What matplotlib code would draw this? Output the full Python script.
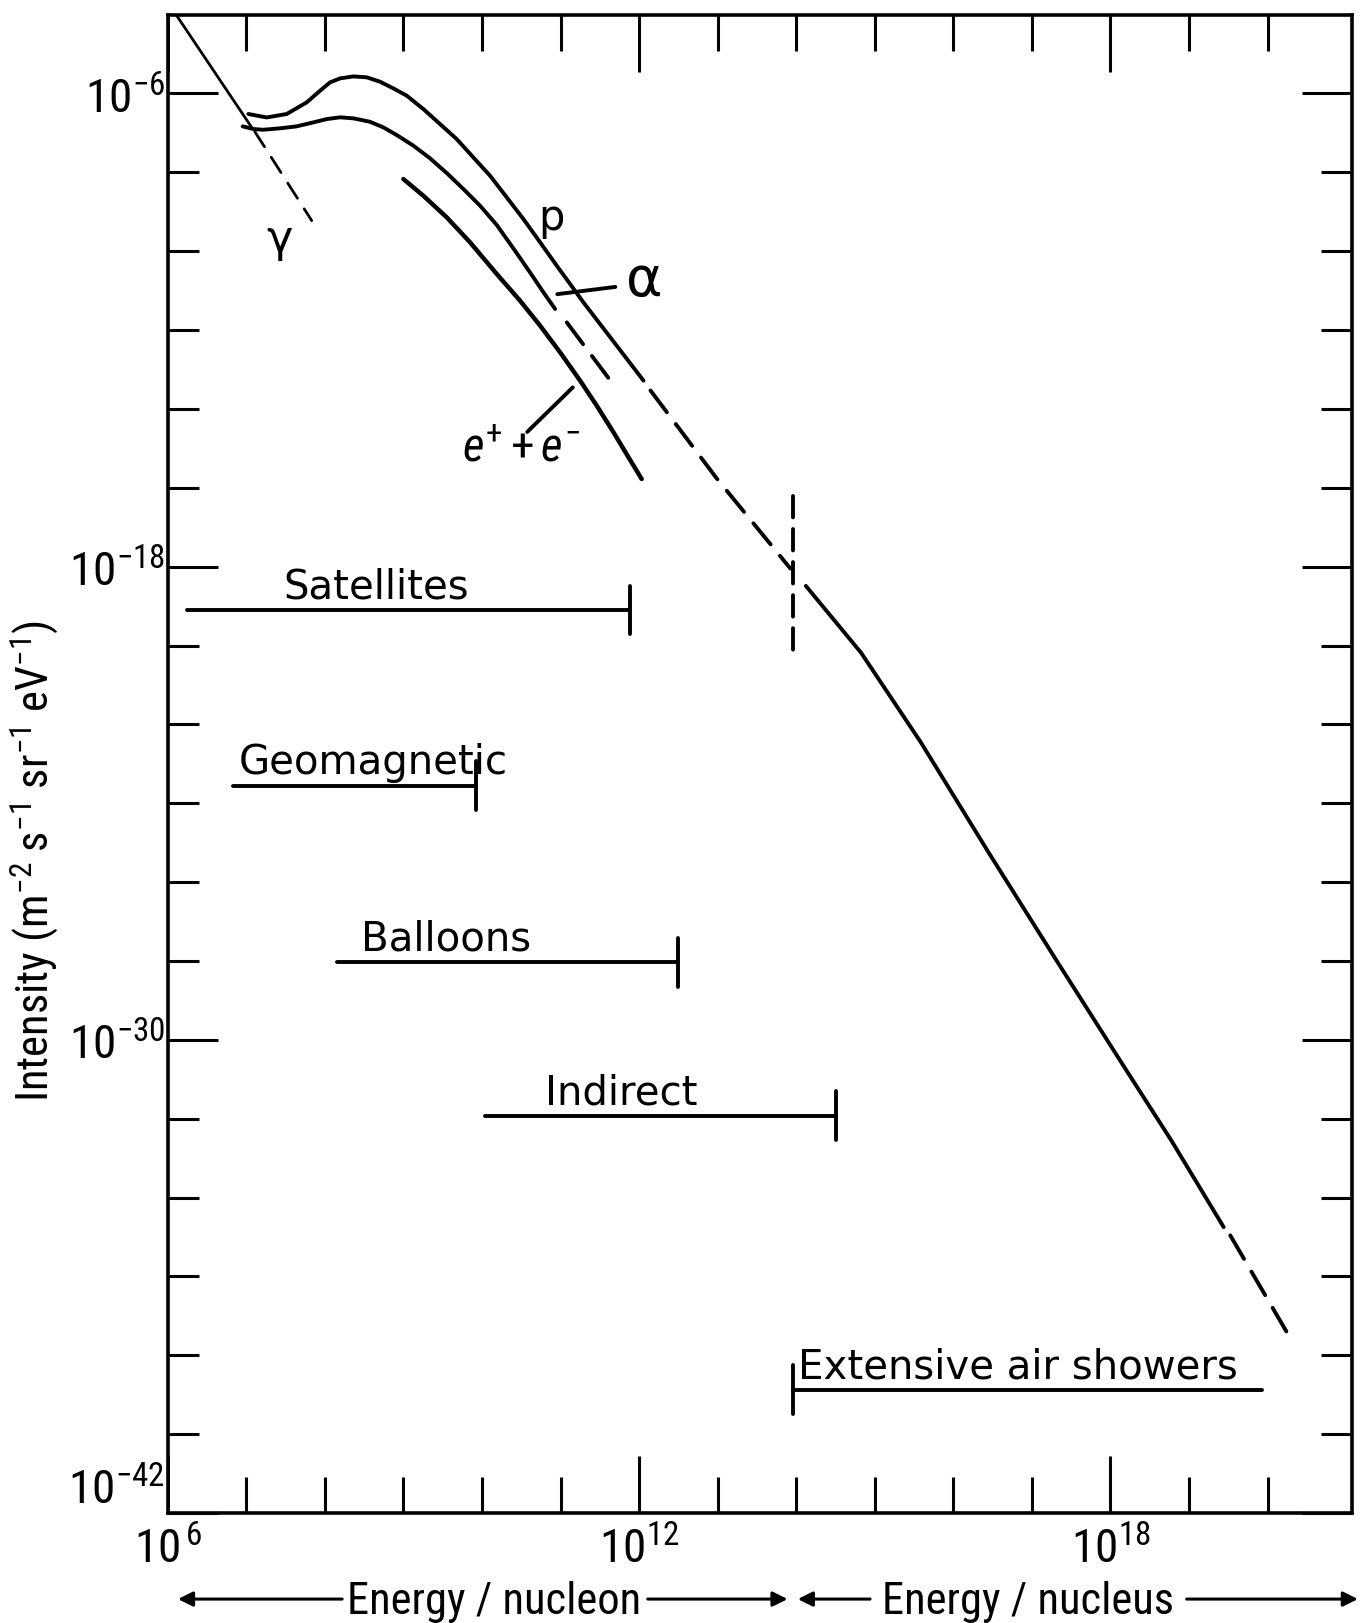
import numpy as np
import matplotlib
matplotlib.use('Agg')
import matplotlib.pyplot as plt
from matplotlib import font_manager
from matplotlib.transforms import blended_transform_factory
from matplotlib.ticker import NullFormatter

# all values are log10(E / eV) and log10(intensity)
gamma_solid_E = [6.105, 7.068]
gamma_solid_I = [-4.0, -6.860]
gamma_dash_E = [7.108, 7.833]
gamma_dash_I = [-6.967, -9.226]

p_E = [7.026, 7.259, 7.514, 7.768, 7.939, 8.065, 8.193, 8.362, 8.533, 8.702, 8.872, 9.042, 9.253,
       9.466, 9.678, 9.890, 10.103, 10.315, 10.527, 10.740, 10.952, 11.122, 11.291, 11.503, 11.715, 12.056]
p_I = [-6.521, -6.608, -6.521, -6.227, -5.930, -5.720, -5.618, -5.568, -5.591, -5.702, -5.872, -6.056, -6.395,
       -6.776, -7.157, -7.622, -8.087, -8.635, -9.184, -9.775, -10.369, -10.833, -11.298, -11.847, -12.396, -13.283]
p_dash_E = [12.145, 12.989, 13.926]
p_dash_I = [-13.533, -15.765, -18.049]

alpha_E = [6.953, 7.089, 7.216, 7.429, 7.641, 7.853, 8.023, 8.193, 8.362, 8.574, 8.744, 8.914, 9.127,
           9.339, 9.551, 9.764, 9.975, 10.188, 10.399, 10.612, 10.782, 10.931]
alpha_I = [-6.834, -6.902, -6.920, -6.884, -6.834, -6.734, -6.650, -6.605, -6.631, -6.718, -6.860, -7.054, -7.325,
           -7.645, -8.018, -8.425, -8.845, -9.336, -9.927, -10.540, -11.043, -11.466]
alpha_dash_E = [11.079, 11.715]
alpha_dash_I = [-11.805, -13.496]

e_E = [8.999, 9.253, 9.551, 9.848, 10.188, 10.485, 10.740, 10.994, 11.249, 11.461, 11.674, 11.865, 12.033]
e_I = [-8.170, -8.593, -9.142, -9.775, -10.578, -11.256, -11.889, -12.564, -13.283, -13.918, -14.593, -15.226, -15.778]

# energy per nucleus part above the knee marker
pk_E = [14.123, 14.826, 15.583, 16.448, 17.313, 18.179, 18.773, 19.441]
pk_I = [-18.488, -20.184, -22.445, -25.245, -27.986, -30.699, -32.545, -34.748]
pk_dash_E = [19.525, 20.269]
pk_dash_I = [-34.958, -37.495]

knee_E = 13.955
knee_I = [-16.21, -20.33]

# experimental ranges
bar_names = ['Satellites', 'Geomagnetic', 'Balloons', 'Indirect', 'Extensive air showers']
bar_lo = [6.24, 6.83, 8.15, 10.04, 13.96]
bar_hi = [11.88, 9.93, 12.50, 14.51, 19.93]
bar_I = [-19.10, -23.56, -28.03, -31.92, -38.87]
bar_cap = ['hi', 'hi', 'hi', 'hi', 'lo']
bar_text_E = [7.477, 6.91, 8.466, 10.80, 14.02]

# narrow font for axis texts if one is installed
fonts = {(f.name, f.stretch) for f in font_manager.fontManager.ttflist}
NARROW = dict(family='DejaVu Sans')
pattern = 'DejaVu Sans'
for cand in ['Liberation Sans Narrow', 'Roboto Condensed', 'Open Sans Condensed']:
    if any(n == cand for n, s in fonts):
        NARROW = dict(family=cand)
        pattern = cand
        break
else:
    if ('DejaVu Sans', 'condensed') in fonts:
        NARROW = dict(family='DejaVu Sans', stretch='condensed')
        pattern = 'DejaVu Sans:stretch=condensed'

plt.rcParams['mathtext.fontset'] = 'custom'
plt.rcParams['mathtext.rm'] = pattern
plt.rcParams['mathtext.it'] = pattern + ':italic'
plt.rcParams['mathtext.bf'] = pattern + ':bold'


def P(a):
    return 10.0 ** np.asarray(a, dtype=float)


LW = 2.8
DASH = (7.0, 3.8)

fig = plt.figure(figsize=(13.65, 16.24), dpi=100)
ax = fig.add_axes([0.1229, 0.0677, 0.8673, 0.9227])
ax.set_xscale('log')
ax.set_yscale('log')
ax.set_xlim(1e6, 10 ** 21.07)
ax.set_ylim(1e-42, 1e-4)

k = dict(color='black', solid_capstyle='round', dash_capstyle='round', solid_joinstyle='round')
ax.plot(P(gamma_solid_E), P(gamma_solid_I), lw=2.0, **k)
ax.plot(P(gamma_dash_E), P(gamma_dash_I), lw=2.0, dashes=(6.5, 4.5), **k)
ax.plot(P(p_E), P(p_I), lw=LW, **k)
ax.plot(P(p_dash_E), P(p_dash_I), lw=LW, dashes=DASH, **k)
ax.plot(P(alpha_E), P(alpha_I), lw=LW, **k)
ax.plot(P(alpha_dash_E), P(alpha_dash_I), lw=LW, dashes=DASH, **k)
ax.plot(P(e_E), P(e_I), lw=LW + 0.4, **k)
ax.plot(P(pk_E), P(pk_I), lw=LW, **k)
ax.plot(P(pk_dash_E), P(pk_dash_I), lw=LW, dashes=DASH, **k)
ax.plot(P([knee_E, knee_E]), P(knee_I), lw=LW, dashes=(5.5, 3.0), **k)

# labels on the curves, with leader lines
ax.text(P(10.88), P(-9.14), 'p', fontsize=30, ha='center', va='center')
ax.text(P(12.06), P(-10.72), 'α', fontsize=40, ha='center', va='center')
ax.plot(P([10.958, 11.697]), P([-11.090, -10.906]), lw=LW, **k)
ax.text(P(7.42), P(-9.67), 'γ', fontsize=32, ha='center', va='center')
ax.text(P(10.50), P(-14.99), r'$e^{+} + e^{-}$', fontsize=34, ha='center', va='center')
ax.plot(P([10.576, 11.156]), P([-14.583, -13.454]), lw=LW, **k)

# measurement ranges
CAP = 0.62
for name, lo, hi, lev, cap, tx in zip(bar_names, bar_lo, bar_hi, bar_I, bar_cap, bar_text_E):
    ax.plot(P([lo, hi]), P([lev, lev]), lw=LW, **k)
    ce = hi if cap == 'hi' else lo
    ax.plot(P([ce, ce]), P([lev - CAP, lev + CAP]), lw=LW, **k)
    ax.annotate(name, xy=(P(tx), P(lev)), xytext=(0, 9), textcoords='offset points',
                fontsize=29, ha='left', va='baseline')

# ticks
ax.set_xticks(P([6, 12, 18]), [r'$10^{\,6}$', r'$10^{12}$', r'$10^{18}$'])
ax.set_xticks(P([e for e in range(7, 21) if e not in (12, 18)]), minor=True)
ax.set_yticks(P([-6, -18, -30, -42]), [r'$10^{-6}$', r'$10^{-18}$', r'$10^{-30}$', r'$10^{-42}$'])
ax.set_yticks(P([e for e in range(-40, -4, 2) if e not in (-30, -18, -6)]), minor=True)
ax.xaxis.set_minor_formatter(NullFormatter())
ax.yaxis.set_minor_formatter(NullFormatter())

ax.tick_params(which='both', direction='in', top=True, right=True, width=2.2, color='black',
               labelsize=34)
ax.tick_params(axis='x', which='major', length=41, pad=9)
ax.tick_params(axis='x', which='minor', length=26)
ax.tick_params(axis='y', which='major', length=36, pad=2)
ax.tick_params(axis='y', which='minor', length=22)
for lbl in ax.get_yticklabels():
    if '42' in lbl.get_text():
        lbl.set_verticalalignment('bottom')
for s in ax.spines.values():
    s.set_linewidth(2.6)

ax.set_ylabel(r'Intensity (m$^{-2}$ s$^{-1}$ sr$^{-1}$ eV$^{-1}$)', fontsize=32, **NARROW)
ax.yaxis.set_label_coords(-0.091, 0.436)

# energy per nucleon / per nucleus arrows under the axis
bt = blended_transform_factory(ax.transData, ax.transAxes)
y_arrow = -0.0574
arrows = [(8.22, 6.13), (12.11, 13.89), (14.94, 14.02), (18.97, 21.15)]
for start, end in arrows:
    ax.annotate('', xy=(P(end), y_arrow), xytext=(P(start), y_arrow),
                xycoords=('data', 'axes fraction'), textcoords=('data', 'axes fraction'),
                arrowprops=dict(arrowstyle='-|>', lw=2.2, color='black', shrinkA=0, shrinkB=0,
                                mutation_scale=22),
                annotation_clip=False)
ax.text(P(10.16), -0.067, 'Energy / nucleon', transform=bt, fontsize=32, ha='center',
        va='baseline', clip_on=False, **NARROW)
ax.text(P(16.95), -0.067, 'Energy / nucleus', transform=bt, fontsize=32, ha='center',
        va='baseline', clip_on=False, **NARROW)

fig.savefig('out.png', dpi=100)
